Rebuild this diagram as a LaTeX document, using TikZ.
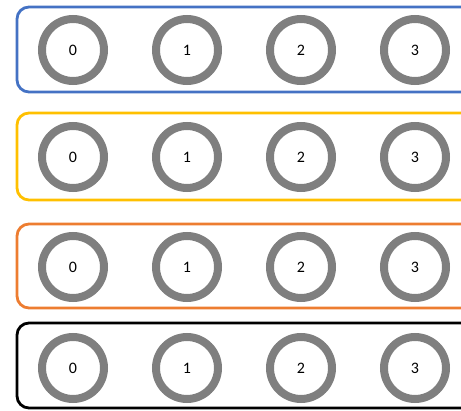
\documentclass[tikz,border=0pt]{standalone}
\usepackage{fontspec}
\setmainfont{Carlito}
\definecolor{rowblue}{HTML}{4472C4}
\definecolor{rowyellow}{HTML}{FFC000}
\definecolor{roworange}{HTML}{ED7D31}
\definecolor{ringgray}{HTML}{7F7F7F}
\begin{document}
\begin{tikzpicture}[x=1pt, y=-1pt,
    ring/.style={circle, draw=ringgray, line width=8pt, minimum size=62pt, inner sep=0pt, font=\fontsize{16}{16}\selectfont},
    rowbox/.style={rounded corners=12pt, line width=2.8pt}]
  \useasboundingbox (0,0) rectangle (461,411);
  \clip (0,0) rectangle (461,411);
  % rows
  \draw[rowbox, draw=rowblue] (17,7) rectangle (490,92);
  \draw[rowbox, draw=rowyellow] (17,113) rectangle (490,200);
  \draw[rowbox, draw=roworange] (17,224) rectangle (490,308);
  \draw[rowbox, draw=black] (17,323) rectangle (490,408);
  % rings
  \foreach \y/\r in {50/a, 157/b, 267/c, 368/d} {
    \foreach \i/\x in {0/73, 1/187, 2/301, 3/415}
      \node[ring] (\r\i) at (\x,\y) {\i};
  }
\end{tikzpicture}
\end{document}
